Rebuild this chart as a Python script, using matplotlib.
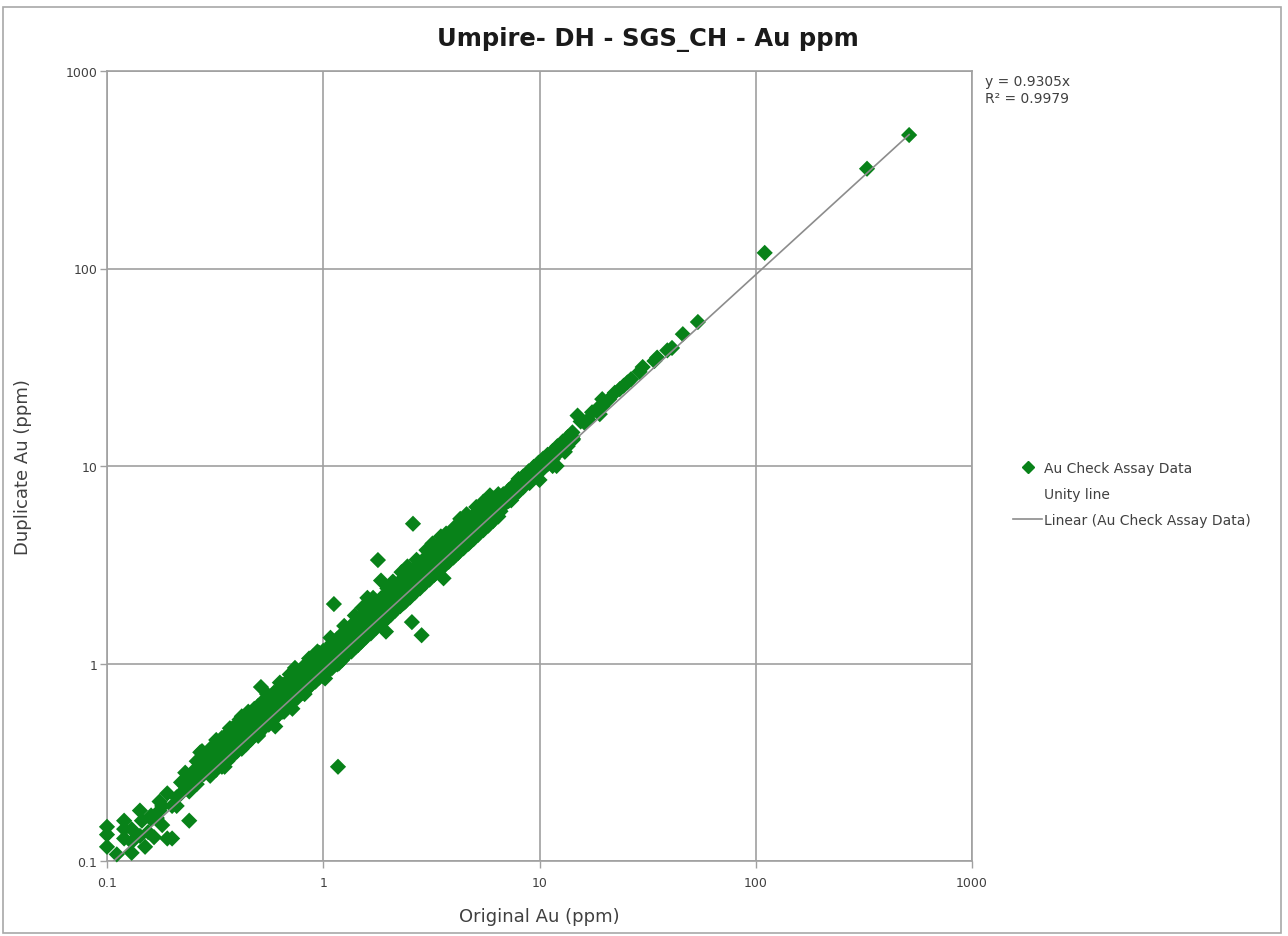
import numpy as np
import matplotlib
matplotlib.use("Agg")
import matplotlib.pyplot as plt
from matplotlib.lines import Line2D
from matplotlib.ticker import FixedLocator, FixedFormatter, NullLocator
from matplotlib.patches import Rectangle

# ---------------- data ----------------
title = "Umpire- DH - SGS_CH - Au ppm"
x_label = "Original Au (ppm)"
y_label = "Duplicate Au (ppm)"
tick_values = [0.1, 1, 10, 100, 1000]
tick_labels = ["0.1", "1", "10", "100", "1000"]
trend_slope = 0.9305
trend_r2 = 0.9979
legend_labels = ["Au Check Assay Data", "Unity line", "Linear (Au Check Assay Data)"]

low_orig = [0.100, 0.100, 0.100, 0.111, 0.120, 0.120, 0.120, 0.130, 0.130, 0.130,
            0.142, 0.142, 0.145, 0.150, 0.155, 0.160, 0.160, 0.165, 0.170, 0.175,
            0.175, 0.180, 0.180, 0.190, 0.190, 0.200, 0.200, 0.210, 0.210, 0.220,
            0.220, 0.230, 0.230, 0.235, 0.240, 0.250, 0.250, 0.255, 0.260, 0.260,
            0.260, 0.270, 0.270, 0.270, 0.275, 0.280, 0.280, 0.280, 0.290, 0.300]
low_dup = [0.149, 0.136, 0.118, 0.108, 0.160, 0.130, 0.145, 0.110, 0.125, 0.145,
           0.134, 0.180, 0.160, 0.118, 0.140, 0.163, 0.170, 0.132, 0.165, 0.180,
           0.200, 0.152, 0.190, 0.130, 0.220, 0.130, 0.190, 0.210, 0.190, 0.220,
           0.250, 0.240, 0.280, 0.260, 0.225, 0.270, 0.240, 0.290, 0.245, 0.320,
           0.280, 0.330, 0.355, 0.270, 0.360, 0.275, 0.300, 0.310, 0.340, 0.360]

mid_orig = [0.30, 0.32, 0.34, 0.36, 0.38, 0.40, 0.42, 0.44, 0.46, 0.48, 0.50, 0.53,
            0.56, 0.59, 0.62, 0.65, 0.68, 0.72, 0.76, 0.80, 0.84, 0.88, 0.92, 0.96, 1.00]
mid_dup_a = [0.28, 0.30, 0.31, 0.33, 0.35, 0.37, 0.38, 0.41, 0.42, 0.44, 0.46, 0.49,
             0.51, 0.54, 0.57, 0.59, 0.63, 0.66, 0.69, 0.73, 0.77, 0.80, 0.84, 0.87, 0.86]
mid_dup_b = [0.32, 0.34, 0.36, 0.38, 0.40, 0.42, 0.45, 0.46, 0.49, 0.50, 0.53, 0.55,
             0.59, 0.61, 0.65, 0.67, 0.71, 0.75, 0.79, 0.83, 0.88, 0.91, 0.96, 0.99, 0.97]
mid_dup_c = [0.35, 0.37, 0.40, 0.42, 0.44, 0.47, 0.49, 0.52, 0.53, 0.56, 0.58, 0.62,
             0.64, 0.68, 0.71, 0.74, 0.77, 0.81, 0.86, 0.90, 0.95, 1.00, 1.04, 1.08, 1.12]
mid_dup_d = [0.37, 0.39, 0.42, 0.44, 0.47, 0.49, 0.52, 0.54, 0.56, 0.59, 0.61, 0.65,
             0.68, 0.71, 0.74, 0.78, 0.81, 0.86, 0.90, 0.95, 1.00, 1.05, 1.08, 1.13, 1.16]
mid_dup_e = [0.27, 0.29, 0.30, 0.32, 0.34, 0.36, 0.37, 0.39, 0.41, 0.43, 0.44, 0.47,
             0.49, 0.52, 0.55, 0.57, 0.60, 0.64, 0.67, 0.71, 0.74, 0.78, 0.81, 0.85, 0.88]

upper_orig = [1.05, 1.10, 1.16, 1.22, 1.28, 1.35, 1.42, 1.50, 1.58, 1.66, 1.75, 1.85,
              1.95, 2.05, 2.15, 2.27, 2.40, 2.52, 2.65, 2.80, 2.95, 3.10, 3.25, 3.45,
              3.60, 3.80, 4.00, 4.20, 4.45, 4.70, 4.95, 5.20, 5.50, 5.80, 6.10, 6.45]
upper_dup_a = [0.96, 1.00, 1.05, 1.09, 1.16, 1.20, 1.29, 1.35, 1.43, 1.49, 1.59, 1.66,
               1.76, 1.84, 1.95, 2.04, 2.17, 2.27, 2.41, 2.51, 2.67, 2.79, 2.96, 3.11,
               3.26, 3.44, 3.63, 3.79, 4.06, 4.27, 4.51, 4.74, 5.01, 5.29, 5.61, 5.94]
upper_dup_b = [1.03, 1.08, 1.13, 1.19, 1.25, 1.32, 1.40, 1.47, 1.55, 1.63, 1.72, 1.82,
               1.92, 2.02, 2.12, 2.24, 2.36, 2.48, 2.60, 2.76, 2.90, 3.05, 3.20, 3.40,
               3.55, 3.75, 3.95, 4.15, 4.40, 4.62, 4.88, 5.10, 5.40, 5.70, 6.00, 6.35]
upper_dup_c = [1.12, 1.18, 1.24, 1.30, 1.37, 1.45, 1.52, 1.61, 1.70, 1.78, 1.88, 1.98,
               2.10, 2.20, 2.32, 2.45, 2.60, 2.72, 2.86, 3.05, 3.20, 3.35, 3.55, 3.75,
               3.90, 4.10, 4.30, 4.55, 4.80, 5.00, 5.30, 5.55, 5.85, 6.15, 6.40, 6.75]
upper_dup_d = [1.20, 1.27, 1.33, 1.41, 1.47, 1.56, 1.63, 1.73, 1.82, 1.92, 2.02, 2.14,
               2.25, 2.37, 2.49, 2.62, 2.77, 2.90, 3.06, 3.24, 3.41, 3.58, 3.76, 3.97,
               4.14, 4.37, 4.58, 4.81, 5.08, 5.36, 5.62, 5.90, 6.20, 6.52, 6.85, 7.20]
upper_dup_e = [0.91, 0.95, 0.99, 1.04, 1.10, 1.15, 1.22, 1.29, 1.36, 1.42, 1.51, 1.58,
               1.67, 1.76, 1.85, 1.95, 2.06, 2.16, 2.28, 2.40, 2.54, 2.66, 2.80, 2.97,
               3.10, 3.27, 3.44, 3.62, 3.83, 4.04, 4.26, 4.48, 4.73, 4.99, 5.26, 5.55]

top_orig = [6.80, 7.20, 7.60, 8.00, 8.40, 8.90, 9.40, 9.90, 10.4, 10.9, 11.5, 12.1, 12.8, 13.5, 14.2]
top_dup_a = [6.30, 6.65, 7.05, 7.40, 7.80, 8.30, 8.80, 9.30, 9.70, 10.2, 10.8, 11.5, 12.2, 12.6, 13.5]
top_dup_b = [6.70, 7.10, 7.50, 7.90, 8.30, 8.80, 9.30, 9.80, 10.3, 10.8, 11.3, 12.0, 12.6, 13.2, 14.1]
top_dup_c = [7.20, 7.55, 8.00, 8.40, 8.85, 9.40, 9.90, 10.4, 10.9, 11.4, 11.9, 12.6, 13.3, 14.0, 14.8]

edge_orig = [0.32, 0.37, 0.41, 0.45, 0.47, 0.55, 0.63, 0.70, 0.74, 0.86, 0.94, 1.08, 1.25, 1.40,
             1.52, 1.70, 2.10, 2.30, 2.45, 2.70, 3.00, 3.20, 3.70, 4.30, 4.60, 5.10, 5.90,
             0.35, 0.50, 0.66, 0.82, 1.02, 1.18, 1.45, 2.00, 2.35, 3.30, 4.10, 4.80, 6.60, 7.40, 9.00]
edge_dup = [0.41, 0.47, 0.52, 0.57, 0.53, 0.70, 0.80, 0.88, 0.95, 1.06, 1.15, 1.35, 1.55, 1.75,
            1.92, 2.15, 2.60, 2.90, 3.10, 3.35, 3.75, 4.05, 4.55, 5.40, 5.70, 6.20, 7.10,
            0.30, 0.43, 0.57, 0.70, 0.84, 1.00, 1.24, 1.72, 2.02, 2.85, 3.55, 4.15, 5.90, 6.70, 8.20]

high_orig = [15.0, 15.5, 16.2, 16.8, 17.5, 18.5, 19.0, 19.5, 19.5, 21.0, 22.3, 23.5, 24.5,
             25.5, 26.5, 29.0, 30.0, 34.0, 35.0, 39.0, 41.0, 46.0, 54.0, 110.0, 327.0, 512.0]
high_dup = [18.0, 16.8, 16.5, 17.2, 18.7, 19.5, 18.3, 21.8, 20.0, 21.8, 23.5, 24.5, 25.5,
            26.5, 27.5, 30.0, 31.7, 34.0, 35.4, 38.5, 39.6, 46.5, 53.6, 120.0, 320.0, 474.0]

outlier_orig = [0.24, 0.42, 0.515, 0.60, 0.72, 0.80, 0.90, 1.17, 1.12, 1.60, 1.79, 1.85,
                1.98, 1.95, 2.57, 2.60, 2.85, 3.36, 3.50, 3.60, 4.05, 5.50, 6.00, 8.00,
                10.0, 11.5, 12.0, 13.1, 14.3]
outlier_dup = [0.16, 0.54, 0.76, 0.48, 0.59, 0.92, 1.09, 0.30, 2.00, 2.15, 3.34, 2.63,
               2.40, 1.45, 1.62, 5.10, 1.39, 3.94, 4.40, 2.70, 4.90, 6.60, 6.80, 8.60,
               8.50, 10.0, 10.0, 11.8, 13.7]

# ---------------- assemble ----------------
orig = np.concatenate([low_orig] + [mid_orig] * 5 + [upper_orig] * 5 + [top_orig] * 3
                      + [edge_orig, high_orig, outlier_orig])
dup = np.concatenate([low_dup, mid_dup_a, mid_dup_b, mid_dup_c, mid_dup_d, mid_dup_e,
                      upper_dup_a, upper_dup_b, upper_dup_c, upper_dup_d, upper_dup_e,
                      top_dup_a, top_dup_b, top_dup_c, edge_dup, high_dup, outlier_dup])

green = "#088219"
grid_gray = "#a0a0a0"
text_gray = "#404040"

fig = plt.figure(figsize=(12.88, 9.37), dpi=100)
W, H = 1288, 937
ax = fig.add_axes([107 / W, (H - 862) / H, (972 - 107) / W, (862 - 72) / H])

ax.set_xscale("log")
ax.set_yscale("log")
ax.set_xlim(0.1, 1000)
ax.set_ylim(0.1, 1000)

ax.scatter(orig, dup, marker="D", s=68, color=green, edgecolors="none",
           zorder=3, clip_on=False)

xt = np.array([orig.min(), orig.max()])
ax.plot(xt, trend_slope * xt, color="#8c8c8c", lw=1.2, zorder=4)

for axis in (ax.xaxis, ax.yaxis):
    axis.set_major_locator(FixedLocator(tick_values))
    axis.set_major_formatter(FixedFormatter(tick_labels))
    axis.set_minor_locator(NullLocator())
ax.tick_params(axis="both", which="major", direction="out", length=5, width=1,
               color=grid_gray, labelsize=9, labelcolor=text_gray, pad=2)
ax.tick_params(axis="x", pad=6)
ax.grid(True, which="major", color=grid_gray, lw=1.2, zorder=0)
ax.set_axisbelow(True)
for sp in ax.spines.values():
    sp.set_color(grid_gray)
    sp.set_linewidth(1.2)

ax.set_xlabel(x_label, fontsize=13, color=text_gray)
ax.xaxis.set_label_coords(0.5, -(908 - 862) / (862 - 72))
ax.set_ylabel(y_label, fontsize=13, color=text_gray)
ax.yaxis.set_label_coords(-(107 - 32) / (972 - 107), 0.5)
fig.text(648 / W, 1 - 40 / H, title, ha="center", va="center",
         fontsize=17.5, fontweight="bold", color="#1a1a1a")

fig.text(985 / W, 1 - 75 / H, f"y = {trend_slope}x\nR\u00b2 = {trend_r2}",
         ha="left", va="top", fontsize=10, color=text_gray, linespacing=1.3)

handles = [
    Line2D([], [], marker="D", color=green, ls="none", markersize=6),
    Line2D([], [], ls="none", marker=None),
    Line2D([], [], color="#8c8c8c", lw=1.2),
]
fig.legend(handles, legend_labels, loc="center left",
           bbox_to_anchor=(1013 / W, 1 - 495 / H), frameon=False, fontsize=10,
           labelcolor=text_gray, handlelength=2.1, handletextpad=0.15,
           labelspacing=0.85, borderpad=0, borderaxespad=0)

fig.patches.append(Rectangle((3 / W, 3 / H), (1281 - 3) / W, (929 - 3) / H,
                             transform=fig.transFigure, fill=False,
                             edgecolor="#a8a8a8", lw=1.2))

fig.savefig("out.png", dpi=100)
